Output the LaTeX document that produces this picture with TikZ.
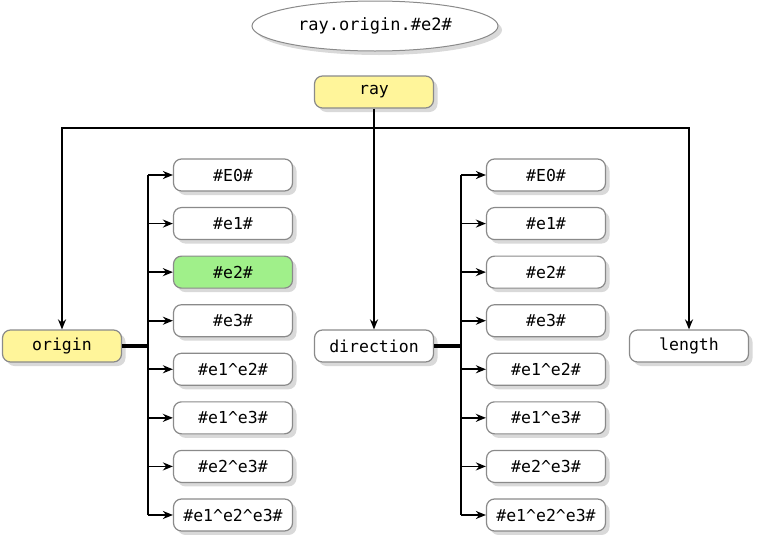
\documentclass[tikz,border=0pt]{standalone}
\usepackage{fontspec}
\setmonofont{DejaVu Sans Mono}
\usetikzlibrary{shadows,arrows.meta,shapes.geometric}
\definecolor{boxline}{HTML}{8A8A8A}
\definecolor{yel}{HTML}{FFF59A}
\definecolor{grn}{HTML}{A0F08A}
\tikzset{
  box/.style={draw=boxline, line width=1.2pt, rounded corners=8pt, fill=white,
    minimum width=119pt, minimum height=32pt, inner sep=0pt,
    font=\ttfamily\fontsize{16.5}{18}\selectfont,
    drop shadow={opacity=0.3, shadow xshift=4pt, shadow yshift=-4pt}},
  ybox/.style={box, fill=yel},
  gbox/.style={box, fill=grn},
  titl/.style={ellipse, draw=boxline, line width=1pt, fill=white,
    minimum width=246pt, minimum height=50pt, inner sep=0pt,
    font=\ttfamily\fontsize{17}{19}\selectfont,
    drop shadow={opacity=0.3, shadow xshift=4pt, shadow yshift=-4pt}},
  conn/.style={line width=1.7pt, -{Stealth[length=10pt,width=8pt]}},
  bus/.style={line width=2.3pt},
  stem/.style={line width=3.2pt},
}
\begin{document}
\begin{tikzpicture}[x=1pt,y=-1pt]
\useasboundingbox (0,0) rectangle (766,549);
\node[titl] (t) at (375,26) {ray.origin.\#e2\#};
\node[ybox] (ray) at (374,92) {ray};
\node[ybox] (origin) at (62,346) {origin};
\node[box] (direction) at (374,346) {direction};
\node[box] (length) at (689,346) {length};
\foreach \n/\lab in {0/\#E0\#,1/\#e1\#,2/\#e2\#,3/\#e3\#,4/\#e1\textasciicircum e2\#,5/\#e1\textasciicircum e3\#,6/\#e2\textasciicircum e3\#,7/\#e1\textasciicircum e2\textasciicircum e3\#}{
  \ifnum\n=2
    \node[gbox] (o\n) at (233,175+48.57*\n) {\lab};
  \else
    \node[box] (o\n) at (233,175+48.57*\n) {\lab};
  \fi
  \node[box] (d\n) at (546,175+48.57*\n) {\lab};
}
\coordinate (top) at (374,128);
\coordinate (ob) at (148,346);
\coordinate (db) at (461,346);
\draw[line width=1.7pt] (ray) -- (top);
\draw[conn] (top) -| (origin);
\draw[conn] (top) -| (length);
\draw[conn] (top) -- (direction);
\draw[stem] (origin) -- (ob);
\draw[stem] (direction) -- (db);
\draw[bus] (o0.west -| ob) -- (o7.west -| ob);
\draw[bus] (d0.west -| db) -- (d7.west -| db);
\foreach \n in {0,...,7}{
  \draw[conn] (o\n.west -| ob) -- (o\n);
  \draw[conn] (d\n.west -| db) -- (d\n);
}
\end{tikzpicture}
\end{document}
